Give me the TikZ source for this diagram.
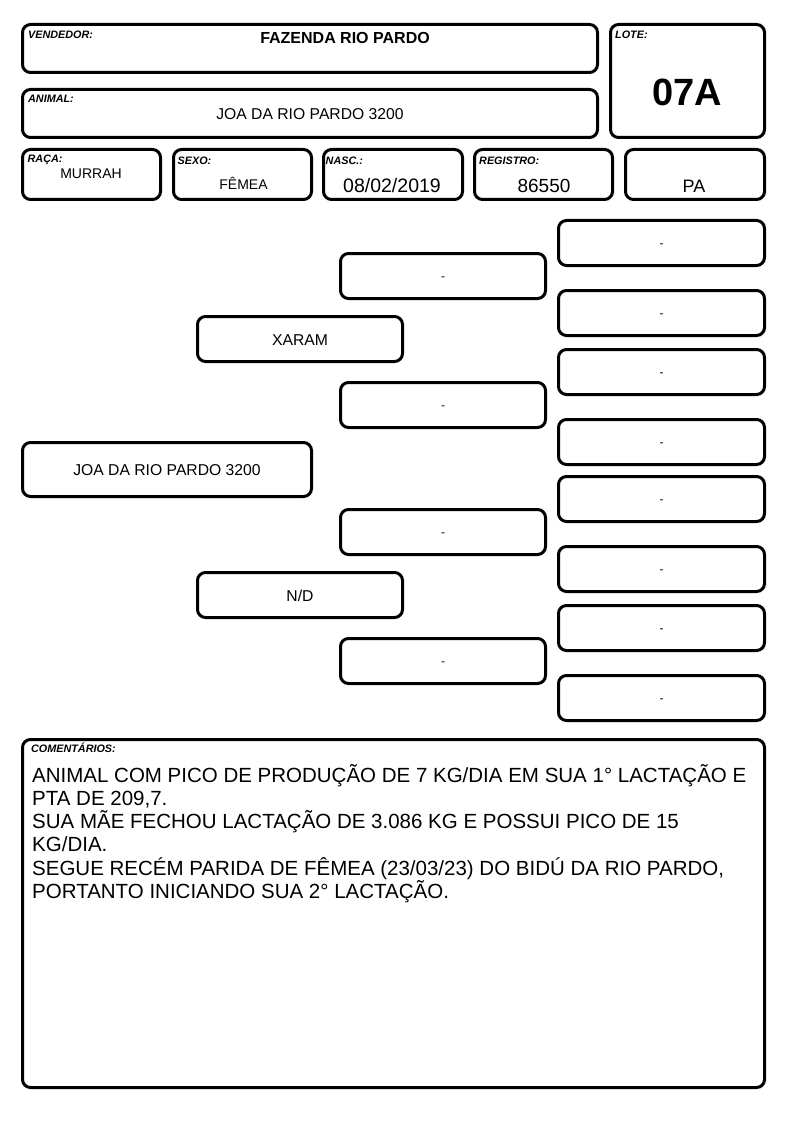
\documentclass[tikz,border=0pt]{standalone}
\usepackage{fontspec}
\setmainfont{Liberation Sans}
\usetikzlibrary{fit}

\tikzset{
  campo/.style={draw, line width=3pt, rounded corners=8pt, inner sep=0pt},
  rotulo/.style={anchor=base west, inner sep=0pt, font=\fontsize{10.8}{12}\selectfont\bfseries\itshape},
  valor/.style={anchor=base, inner sep=0pt},
  arvore/.style={campo, label={[font=\fontsize{15.7}{18}\selectfont, inner sep=0pt, yshift=-1pt]center:#1}},
  vazio/.style={campo, label={[font=\fontsize{12}{14}\selectfont, inner sep=0pt, yshift=-2.5pt]center:-}},
}

\begin{document}
\begin{tikzpicture}[x=1pt, y=-1pt]
    \useasboundingbox (0,0) rectangle (794,1123);

    % cabecalho
    \node[campo, fit={(22.5,24.5) (597.5,72.5)}] (vendedor) {};
    \node[campo, fit={(610.5,24.5) (764.5,137.5)}] (lote) {};
    \node[campo, fit={(22.5,89.5) (597.5,137.5)}] (animal) {};
    \node[campo, fit={(22.5,149.5) (160.5,199.5)}] (raca) {};
    \node[campo, fit={(173.5,149.5) (311.5,199.5)}] (sexo) {};
    \node[campo, fit={(323.5,149.5) (462.5,199.5)}] (nasc) {};
    \node[campo, fit={(474.5,149.5) (612.5,199.5)}] (registro) {};
    \node[campo, fit={(625.5,149.5) (764.5,199.5)}] (uf) {};

    \node[rotulo] (tVendedor) at (28,39) {VENDEDOR:};
    \node[valor, font=\fontsize{16}{18}\selectfont\bfseries] (vVendedor) at (345,43.5) {FAZENDA RIO PARDO};
    \node[rotulo] (tLote) at (615,39) {LOTE:};
    \node[valor, font=\fontsize{38}{40}\selectfont\bfseries] (vLote) at (687.5,105.5) {07A};
    \node[rotulo] (tAnimal) at (28,103) {ANIMAL:};
    \node[valor, font=\fontsize{15.7}{18}\selectfont] (vAnimal) at (310,120) {JOA DA RIO PARDO 3200};
    \node[rotulo] (tRaca) at (27.5,163) {RAÇA:};
    \node[valor, font=\fontsize{14}{16}\selectfont] (vRaca) at (91,178.3) {MURRAH};
    \node[rotulo] (tSexo) at (177.5,165) {SEXO:};
    \node[valor, font=\fontsize{14}{16}\selectfont] (vSexo) at (243.5,189.3) {FÊMEA};
    \node[rotulo] (tNasc) at (325.5,165) {NASC.:};
    \node[valor, font=\fontsize{19.5}{22}\selectfont] (vNasc) at (392,192.7) {08/02/2019};
    \node[rotulo] (tRegistro) at (479,165) {REGISTRO:};
    \node[valor, font=\fontsize{19}{22}\selectfont] (vRegistro) at (544,192.3) {86550};
    \node[valor, font=\fontsize{18}{20}\selectfont] (vUf) at (694,193) {PA};

    % pedigree
    \foreach \t [count=\i] in {219,289,348,418,475,545,604,674}
        \node[vazio, fit={(558.5,\t+1.5) (764.5,\t+46.5)}] (bis\i) {};
    \foreach \t [count=\i] in {252,381,508,637}
        \node[vazio, fit={(340.5,\t+1.5) (545.5,\t+46.5)}] (avo\i) {};
    \node[arvore=XARAM, fit={(197.5,316.5) (402.5,361.5)}] (pai) {};
    \node[arvore=N/D, fit={(197.5,572.5) (402.5,617.5)}] (mae) {};
    \node[arvore=JOA DA RIO PARDO 3200, fit={(22.5,442.5) (311.5,496.5)}] (filho) {};

    % comentarios
    \node[campo, fit={(22.5,739.5) (764.5,1087.5)}] (comentarios) {};
    \node[rotulo] (tComentarios) at (31,752.5) {COMENTÁRIOS:};
    \node[anchor=base west, inner sep=0pt, align=left, font=\fontsize{20.5}{23.3}\selectfont] (vComentarios) at (32,898.5)
        {ANIMAL COM PICO DE PRODUÇÃO DE 7 KG/DIA EM SUA 1° LACTAÇÃO E\\
         PTA DE 209,7.\\
         SUA MÃE FECHOU LACTAÇÃO DE 3.086 KG E POSSUI PICO DE 15\\
         KG/DIA.\\
         SEGUE RECÉM PARIDA DE FÊMEA (23/03/23) DO BIDÚ DA RIO PARDO,\\
         PORTANTO INICIANDO SUA 2° LACTAÇÃO.};
\end{tikzpicture}
\end{document}
